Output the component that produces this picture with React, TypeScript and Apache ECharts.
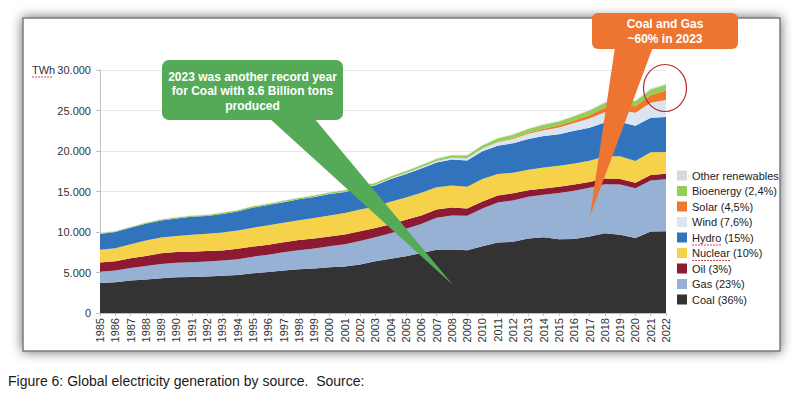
import React, { useEffect, useRef } from "react";
import * as echarts from "echarts";

const years = ["1985","1986","1987","1988","1989","1990","1991","1992","1993","1994","1995","1996","1997","1998","1999","2000","2001","2002","2003","2004","2005","2006","2007","2008","2009","2010","2011","2012","2013","2014","2015","2016","2017","2018","2019","2020","2021","2022"];

const coal = [3700,3800,4000,4150,4300,4400,4450,4500,4600,4700,4900,5050,5250,5400,5500,5650,5750,6000,6400,6700,7000,7400,7800,7850,7750,8250,8700,8800,9200,9350,9100,9150,9450,9850,9650,9250,10050,10100];
const gas = [1400,1450,1550,1650,1750,1800,1820,1850,1880,1950,2050,2150,2250,2350,2450,2600,2750,2900,2950,3150,3400,3600,3950,4200,4250,4650,4950,5100,5150,5250,5700,5950,6000,6050,6200,6150,6300,6400];
const oil = [1150,1150,1200,1250,1330,1320,1300,1300,1250,1280,1250,1220,1230,1260,1250,1200,1200,1180,1150,1120,1100,1050,1030,960,900,880,850,870,800,780,780,750,720,720,700,680,700,680];
const nuclear = [1550,1600,1740,1890,1950,2000,2100,2120,2200,2260,2330,2410,2400,2440,2530,2580,2650,2690,2640,2770,2770,2800,2750,2740,2700,2760,2650,2550,2550,2590,2600,2620,2640,2700,2790,2700,2800,2700];
const hydro = [1950,2000,2030,2080,2100,2150,2200,2200,2300,2330,2480,2500,2550,2580,2600,2650,2580,2630,2640,2800,2900,3000,3050,3200,3240,3430,3500,3650,3780,3880,3880,4020,4060,4200,4230,4340,4270,4330];
const wind = [0,0,0,0,0,4,4,5,6,7,8,9,12,16,21,31,38,52,63,85,104,133,170,220,276,342,437,522,640,710,830,960,1140,1270,1420,1590,1850,2100];
const solar = [0,0,0,0,0,0,0,0,0,0,0,0,0,0,0,1,1,1,2,3,4,5,8,12,20,32,63,97,135,190,250,330,440,560,680,800,950,1150];
const bio = [100,105,110,115,120,125,130,135,140,145,150,155,160,160,165,170,175,185,200,215,230,245,265,290,310,350,380,420,450,480,500,520,560,590,610,630,680,720];
const other = [40,40,42,44,46,48,50,52,52,54,56,58,60,60,62,64,65,66,68,70,72,74,76,80,82,85,86,88,90,92,94,95,96,98,100,100,105,110];

const seriesDefs = [
  { name: "Coal (36%)", data: coal, color: "#333333" },
  { name: "Gas (23%)", data: gas, color: "#97b1d4" },
  { name: "Oil (3%)", data: oil, color: "#8d1a33" },
  { name: "Nuclear (10%)", data: nuclear, color: "#f6d24a" },
  { name: "Hydro (15%)", data: hydro, color: "#3174bd" },
  { name: "Wind (7,6%)", data: wind, color: "#dbe5f1" },
  { name: "Solar (4,5%)", data: solar, color: "#ef782b" },
  { name: "Bioenergy (2,4%)", data: bio, color: "#92cf55" },
  { name: "Other renewables", data: other, color: "#d9d9d9" },
];

const FONT = "Liberation Sans, Arial, Helvetica, sans-serif";

export default function App() {
  const ref = useRef<HTMLDivElement>(null);
  useEffect(() => {
    if (!ref.current) return;
    const chart = echarts.init(ref.current, undefined, { renderer: "svg" });
    chart.setOption({
      animation: false,
      backgroundColor: "#ffffff",
      textStyle: { fontFamily: FONT },
      grid: { left: 100, right: 134, top: 70, bottom: 81 },
      legend: {
        orient: "vertical",
        left: 677,
        top: 170,
        padding: 0,
        itemWidth: 10,
        itemHeight: 10,
        itemGap: 4.5,
        icon: "rect",
        data: seriesDefs.map((s) => s.name).reverse(),
        textStyle: { fontSize: 11, color: "#222", fontFamily: FONT },
      },
      xAxis: {
        type: "category",
        data: years,
        boundaryGap: false,
        axisLine: { lineStyle: { color: "#bfbfbf" } },
        axisTick: { show: true, interval: 0, length: 3, lineStyle: { color: "#bfbfbf" } },
        axisLabel: { rotate: 90, interval: 0, fontSize: 11, color: "#333", margin: 5, fontFamily: FONT },
      },
      yAxis: {
        type: "value",
        min: 0,
        max: 30000,
        interval: 5000,
        axisLine: { show: true, lineStyle: { color: "#bfbfbf" } },
        axisTick: { show: true, length: 4, lineStyle: { color: "#bfbfbf" } },
        splitLine: { lineStyle: { color: "#e8e8e8" } },
        axisLabel: {
          fontSize: 11,
          color: "#333",
          margin: 9,
          fontFamily: FONT,
          formatter: (v: number) => (v === 0 ? "0" : `${Math.floor(v / 1000)}.${String(v % 1000).padStart(3, "0")}`),
        },
      },
      series: seriesDefs.map((s) => ({
        name: s.name,
        type: "line",
        stack: "total",
        data: s.data,
        showSymbol: false,
        symbol: "none",
        lineStyle: { width: 0 },
        itemStyle: { color: s.color },
        areaStyle: { color: s.color, opacity: 1 },
      })),
      graphic: [
        {
          type: "rect",
          z: -10,
          shape: { x: 23, y: 18, width: 757, height: 333 },
          style: { fill: "#ffffff", stroke: "#7a7a7a", lineWidth: 1.5, shadowBlur: 12, shadowColor: "rgba(0,0,0,0.6)" },
        },
        {
          type: "text",
          x: 32,
          y: 70,
          z: 50,
          style: { text: "TWh", fill: "#333", font: `11px ${FONT}`, textVerticalAlign: "middle" },
        },
        { type: "line", z: 50, shape: { x1: 32, y1: 77, x2: 53, y2: 77 }, style: { stroke: "#d04a4a", lineWidth: 1, lineDash: [2, 1] } },
        { type: "line", z: 50, shape: { x1: 692, y1: 245, x2: 721, y2: 245 }, style: { stroke: "#d04a4a", lineWidth: 1, lineDash: [2, 1] } },
        { type: "line", z: 50, shape: { x1: 692, y1: 260.5, x2: 730, y2: 260.5 }, style: { stroke: "#d04a4a", lineWidth: 1, lineDash: [2, 1] } },
        {
          type: "polygon",
          z: 100,
          shape: { points: [[269, 118], [314, 118], [453, 285]] },
          style: { fill: "#55aa58" },
        },
        {
          type: "rect",
          z: 100,
          shape: { x: 162, y: 60, width: 181, height: 60, r: 7 },
          style: { fill: "#55aa58" },
        },
        {
          type: "text",
          z: 101,
          x: 252.5,
          y: 91,
          style: {
            text: "2023 was another record year\nfor Coal with 8.6 Billion tons\nproduced",
            fill: "#ffffff",
            font: `bold 12px ${FONT}`,
            lineHeight: 14.5,
            textAlign: "center",
            textVerticalAlign: "middle",
          },
        },
        {
          type: "polygon",
          z: 100,
          shape: { points: [[615, 47], [653, 47], [590, 216]] },
          style: { fill: "#ee7431" },
        },
        {
          type: "rect",
          z: 100,
          shape: { x: 592, y: 13, width: 146, height: 36, r: 6 },
          style: { fill: "#ee7431" },
        },
        {
          type: "text",
          z: 101,
          x: 665,
          y: 31.5,
          style: {
            text: "Coal and Gas\n~60% in 2023",
            fill: "#ffffff",
            font: `bold 12px ${FONT}`,
            lineHeight: 14.3,
            textAlign: "center",
            textVerticalAlign: "middle",
          },
        },
        {
          type: "ellipse",
          z: 102,
          shape: { cx: 665, cy: 88, rx: 21.5, ry: 23.5 },
          style: { fill: "none", stroke: "#c0272d", lineWidth: 1.2 },
        },
        {
          type: "text",
          z: 50,
          x: 8,
          y: 381,
          style: {
            text: "Figure 6: Global electricity generation by source.  Source:",
            fill: "#1a1a1a",
            font: `14px ${FONT}`,
            textVerticalAlign: "middle",
          },
        },
      ],
    });
    return () => chart.dispose();
  }, []);
  return <div ref={ref} style={{ position: "absolute", left: 0, top: 0, width: 800, height: 394 }} />;
}
